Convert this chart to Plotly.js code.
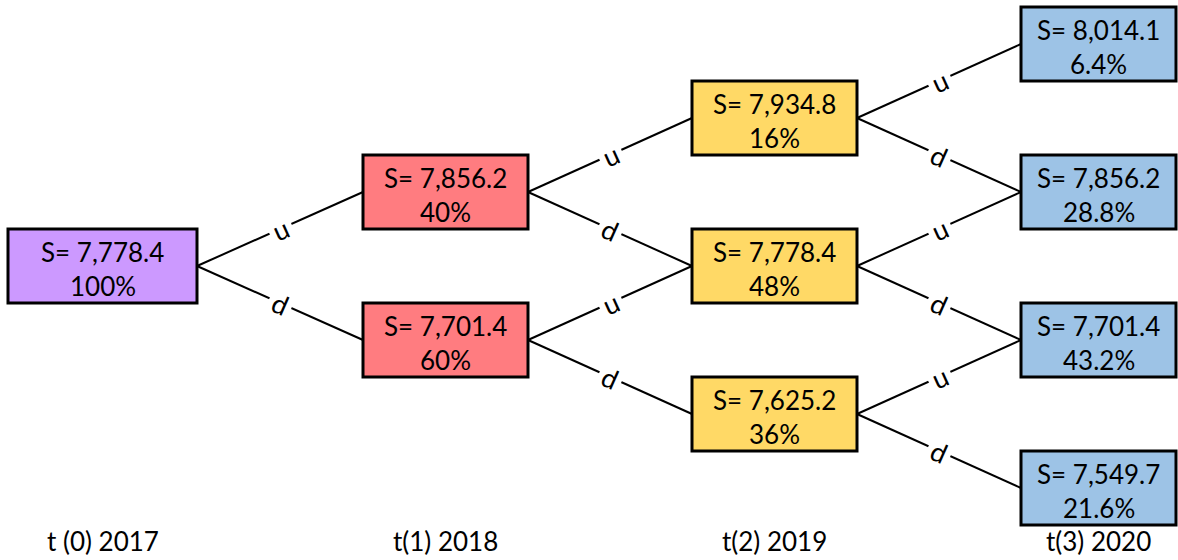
<!DOCTYPE html>
<html>
<head>
<meta charset="utf-8">
<script src="https://cdn.plot.ly/plotly-3.0.1.min.js"></script>
<style>html,body{margin:0;padding:0;background:#fff;}#chart{width:1178px;height:560px;}</style>
</head>
<body>
<div id="chart"></div>
<script>
// ---- data ----
const stepLabels = ['t (0) 2017', 't(1) 2018', 't(2) 2019', 't(3) 2020'];
const nodeStep  = [0, 1, 1, 2, 2, 2, 3, 3, 3, 3];
const nodeLevel = [0, 1, -1, 2, 0, -2, 3, 1, -1, -3];   // net number of up moves
const nodePrice = [7778.4, 7856.2, 7701.4, 7934.8, 7778.4, 7625.2, 8014.1, 7856.2, 7701.4, 7549.7];
const nodeProb  = ['100%', '40%', '60%', '16%', '48%', '36%', '6.4%', '28.8%', '43.2%', '21.6%'];
const moveLabels = {up: 'u', down: 'd'};

// ---- layout constants (geometry & style) ----
const colLeft  = [8, 363, 692, 1021];
const colRight = [197, 528, 857, 1176];
const centerY = 266, rowStep = 74, halfBox = 37;
const stepLabelY = 541;
const stepColors = ['#CC99FF', '#FF7C80', '#FFD966', '#9DC3E6'];
const FONT = 'Lato, "Open Sans", sans-serif';
const rowY = k => centerY - rowStep * k;
const colMid = s => (colLeft[s] + colRight[s]) / 2;

const fmt = v => v.toLocaleString('en-US', {minimumFractionDigits: 1, maximumFractionDigits: 1});

const traces = [];
const shapes = [];
const annotations = [];

// connectors
nodeStep.forEach((s, i) => {
  if (s >= stepLabels.length - 1) return;
  const k = nodeLevel[i];
  [[1, 'up'], [-1, 'down']].forEach(([dk, mv]) => {
    const x0 = colRight[s], y0 = rowY(k);
    const x1 = colLeft[s + 1], y1 = rowY(k + dk);
    traces.push({
      type: 'scatter', mode: 'lines', x: [x0, x1], y: [y0, y1],
      line: {color: '#000', width: 2}, hoverinfo: 'skip', showlegend: false
    });
    const ang = Math.atan2(y1 - y0, x1 - x0) * 180 / Math.PI;
    annotations.push({
      x: (x0 + x1) / 2, y: (y0 + y1) / 2, xref: 'x', yref: 'y',
      text: moveLabels[mv], showarrow: false, textangle: ang,
      bgcolor: '#fff', borderpad: 4,
      font: {family: FONT, size: 27, color: '#000'}
    });
  });
});

// boxes
nodeStep.forEach((s, i) => {
  const yc = rowY(nodeLevel[i]);
  shapes.push({
    type: 'rect', xref: 'x', yref: 'y', layer: 'above',
    x0: colLeft[s], x1: colRight[s], y0: yc - halfBox, y1: yc + halfBox,
    fillcolor: stepColors[s], line: {color: '#000', width: 3}
  });
  annotations.push({
    x: colMid(s), y: yc, xref: 'x', yref: 'y', yshift: 14,
    text: 'S= ' + fmt(nodePrice[i]), showarrow: false,
    font: {family: FONT, size: 26, color: '#000'}
  });
  annotations.push({
    x: colMid(s), y: yc, xref: 'x', yref: 'y', yshift: -20,
    text: nodeProb[i], showarrow: false,
    font: {family: FONT, size: 26, color: '#000'}
  });
});

// step labels
stepLabels.forEach((t, s) => {
  annotations.push({
    x: colMid(s), y: stepLabelY, xref: 'x', yref: 'y',
    text: t, showarrow: false,
    font: {family: FONT, size: 26, color: '#000'}
  });
});

const layout = {
  width: 1178, height: 560,
  margin: {l: 0, r: 0, t: 0, b: 0},
  paper_bgcolor: '#fff', plot_bgcolor: '#fff',
  xaxis: {range: [0, 1178], visible: false, fixedrange: true},
  yaxis: {range: [560, 0], visible: false, fixedrange: true},
  shapes: shapes, annotations: annotations, showlegend: false
};

Plotly.newPlot('chart', traces, layout, {staticPlot: true, displayModeBar: false});
</script>
</body>
</html>
